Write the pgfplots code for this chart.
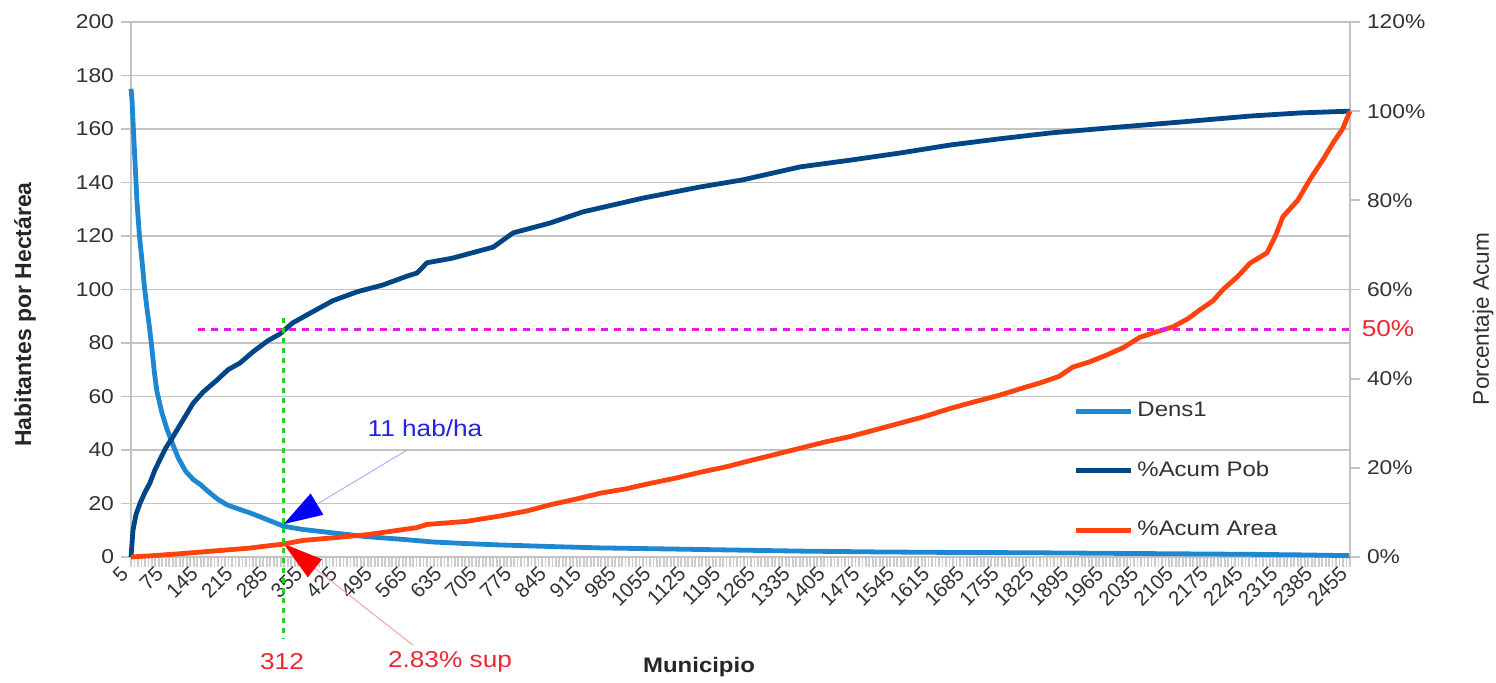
\documentclass[border=0pt]{standalone}
\usepackage{pgfplots}
\pgfplotsset{compat=1.18}
\usepackage{pgfplotstable}
\usepackage{fontspec}
\setmainfont[FakeStretch=1.14]{Liberation Sans}
\newfontfamily\plainfont{Liberation Sans}
\usetikzlibrary{arrows.meta}
\definecolor{densblue}{RGB}{30,135,210}
\definecolor{pobblue}{RGB}{0,69,134}
\definecolor{areaorange}{RGB}{255,66,14}
\definecolor{gridgray}{RGB}{195,195,195}
\definecolor{ticktext}{RGB}{50,50,50}
\definecolor{annblue}{RGB}{35,35,225}
\definecolor{annred}{RGB}{235,40,50}
\definecolor{magentaline}{RGB}{225,30,225}
\definecolor{greenline}{RGB}{40,205,40}
\definecolor{arrowblueline}{RGB}{175,175,240}
\definecolor{arrowredline}{RGB}{240,165,170}

\pgfplotstableread{
x y
5 175
7 171
9 163
13 148
17 133
22 120
27 111
32 101
37 93
42 86
47 78
52 69
57 62
67 54
77 48
87 43
100 37
115 32
130 29
145 27
160 24.5
180 21.5
198 19.5
220 18
244 16.5
265 15
285 13.5
312 11.5
350 10.3
411 9
479 7.6
550 6.6
612 5.6
680 5
747 4.5
850 3.9
948 3.4
1050 3.1
1150 2.8
1250 2.5
1350 2.2
1500 1.9
1650 1.7
1800 1.6
1952 1.4
2100 1.2
2250 1.0
2350 0.8
2455 0.5
}\densdata

\pgfplotstableread{
x y
5 0
7 3
9 6
15 9.5
23 12
33 14.5
43 16.6
53 19.5
63 21.8
75 24.5
89 26.9
110 30.8
130 34.5
150 37
178 39.7
200 42
224 43.5
250 46
280 48.5
304 50
330 52.5
370 55
411 57.5
460 59.5
511 61
560 63
580 63.7
600 66
650 67
733 69.5
773 72.7
847 74.9
913 77.4
1034 80.5
1149 83
1235 84.6
1350 87.5
1450 89
1550 90.6
1651 92.4
1751 93.8
1852 95.1
1987 96.4
2119 97.6
2254 98.9
2354 99.6
2455 100
}\pobdata

\pgfplotstableread{
x y
5 0
50 0.3
100 0.7
144 1.1
200 1.6
244 2.0
280 2.5
312 2.9
350 3.7
411 4.3
479 5.0
530 5.8
580 6.6
600 7.3
680 8
747 9.2
800 10.3
847 11.7
900 13
948 14.3
1000 15.3
1048 16.5
1100 17.7
1149 19
1200 20.2
1249 21.6
1300 23
1350 24.4
1400 25.8
1450 27
1500 28.5
1550 30
1600 31.5
1651 33.3
1700 34.8
1751 36.3
1800 38
1831 39
1870 40.5
1898 42.6
1930 43.7
1966 45.3
2000 47
2033 49.3
2066 50.5
2099 51.6
2130 53.5
2153 55.4
2180 57.5
2200 60
2230 63
2254 65.9
2288 68.2
2305 72
2320 76.3
2350 80
2374 84.6
2400 89
2421 92.9
2440 96
2455 100
}\areadata

\pgfplotsset{
  common/.style={
    at={(65.5pt,63pt)}, anchor=south west,
    scale only axis, width=609.5pt, height=267.5pt,
    xmin=5, xmax=2455,
    axis line style={gridgray, line width=0.9pt, -},
    tick style={gridgray, line width=0.9pt},
    tick align=outside,
    /pgf/number format/assume math mode=true,
    /pgf/number format/1000 sep={},
    ticklabel style={font=\fontsize{10}{12}\selectfont, text=ticktext},
  }
}

\begin{document}
\begin{tikzpicture}
\useasboundingbox (0,0) rectangle (748pt,341.5pt);
\begin{axis}[common,
  ymin=0, ymax=200,
  axis x line*=bottom, axis y line*=left,
  xtick={5,75,...,2455}, minor x tick num=9,
  ytick={0,20,...,200},
  ymajorgrids, grid style={gridgray, line width=0.9pt},
  x tick style={gridgray!85, line width=0.9pt},
  major tick length=5pt, minor tick length=5pt,
  xticklabel style={rotate=45, anchor=east, yshift=1pt, font=\plainfont\fontsize{10.3}{12}\selectfont},
  clip=false,
]
\addplot[densblue, line width=2.4pt, line join=round] table {\densdata};
\draw[arrowblueline, line width=0.5pt, -{Triangle[length=19.4pt, width=12.3pt, fill=blue, color=blue]}] (axis cs:560,40) -- (axis cs:312,12.3);
\draw[arrowredline, line width=0.5pt, -{Triangle[length=19.8pt, width=11.4pt, fill=red, color=red]}] (axis cs:572,-33) -- (axis cs:312,4.9);
\end{axis}
\begin{axis}[common,
  ymin=0, ymax=120,
  axis x line=none, axis y line*=right,
  ytick={0,20,...,120},
  yticklabel={\pgfmathprintnumber{\tick}\%},
  major tick length=5pt,
  clip=false,
  legend cell align=left,
  legend style={at={(0.773,0.297)}, anchor=north west, draw=none, fill=none,
    inner sep=0pt, row sep=16.8pt, font=\fontsize{10.5}{12}\selectfont,
    text=ticktext},
  legend image code/.code={\draw[#1] (0pt,0pt) -- (27.5pt,0pt);},
]
\addlegendimage{densblue, line width=2.4pt}
\addlegendentry{Dens1}
\addplot[pobblue, line width=2.4pt, line join=round] table {\pobdata};
\addlegendentry{\%Acum Pob}
\addplot[areaorange, line width=2.4pt, line join=round] table {\areadata};
\addlegendentry{\%Acum Area}
\addplot[magentaline, line width=1.6pt, dash pattern=on 3.3pt off 3.2pt, forget plot] coordinates {(140,51) (2455,51)};
\addplot[greenline, line width=1.6pt, dash pattern=on 2.5pt off 2.5pt, forget plot] coordinates {(312,53.5) (312,-18.5)};
\end{axis}
\node[rotate=90, font=\plainfont\bfseries\fontsize{11.5}{13}\selectfont, text=black!85] at (12.5pt,184.25pt) {Habitantes por Hectárea};
\node[rotate=90, font=\plainfont\fontsize{11.3}{13}\selectfont, text=ticktext] at (741.5pt,182pt) {Porcentaje Acum};
\node[font=\bfseries\fontsize{10.5}{12}\selectfont, text=black!85] at (349.5pt,8pt) {Municipio};
\node[font=\fontsize{11.5}{13}\selectfont, text=annblue] at (212.5pt,127.5pt) {11 hab/ha};
\node[font=\fontsize{11.5}{13}\selectfont, text=annred] at (141pt,10.5pt) {312};
\node[font=\fontsize{11.5}{13}\selectfont, text=annred] at (225pt,10.5pt) {2.83\% sup};
\node[font=\fontsize{11.5}{13}\selectfont, text=annred] at (694pt,177pt) {50\%};
\end{tikzpicture}
\end{document}
